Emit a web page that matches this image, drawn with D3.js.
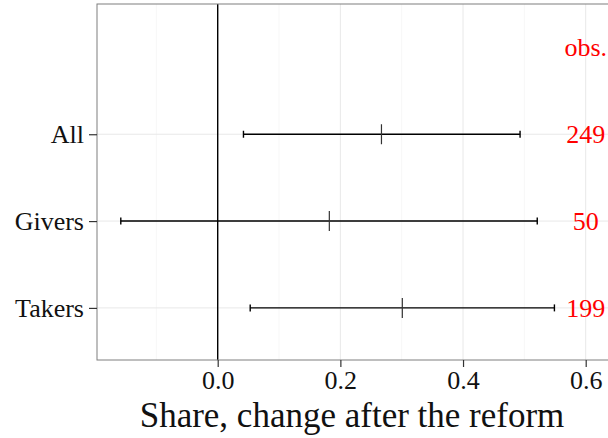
<!DOCTYPE html>
<html>
<head>
<meta charset="utf-8">
<script src="https://cdn.jsdelivr.net/npm/d3@7"></script>
<style>
  html, body { margin: 0; padding: 0; background: #fff; }
  svg { display: block; font-family: "Liberation Serif", "DejaVu Serif", serif; }
</style>
</head>
<body>
<svg id="chart" width="608" height="438"></svg>
<script>
  const groups = ['All', 'Givers', 'Takers'];
  const estimates = [0.267, 0.182, 0.301];
  const lower = [0.042, -0.158, 0.053];
  const upper = [0.493, 0.521, 0.549];
  const obs = [249, 50, 199];
  const xTicks = [0, 0.2, 0.4, 0.6];
  const xMinor = [-0.1, 0.1, 0.3, 0.5];
  const xTitle = 'Share, change after the reform';

  const svg = d3.select('#chart');
  const panel = { left: 97, top: 4, right: 614, bottom: 360 };

  const x = d3.scaleLinear().domain([0, 0.6]).range([217.7, 585.7]);
  const y = d3.scaleLinear().domain([0.4, 4.5]).range([panel.bottom, panel.top]);
  const yPos = i => groups.length - i;

  // grid
  const grid = svg.append('g');
  grid.selectAll('line.minor')
    .data(xMinor)
    .join('line')
    .attr('x1', d => x(d)).attr('x2', d => x(d))
    .attr('y1', panel.top).attr('y2', panel.bottom)
    .attr('stroke', '#f7f7f7').attr('stroke-width', 1);
  grid.selectAll('line.majorx')
    .data(xTicks)
    .join('line')
    .attr('x1', d => x(d)).attr('x2', d => x(d))
    .attr('y1', panel.top).attr('y2', panel.bottom)
    .attr('stroke', '#e8e8e8').attr('stroke-width', 1);
  grid.selectAll('line.majory')
    .data(groups)
    .join('line')
    .attr('x1', panel.left).attr('x2', panel.right)
    .attr('y1', (d, i) => y(yPos(i))).attr('y2', (d, i) => y(yPos(i)))
    .attr('stroke', '#e8e8e8').attr('stroke-width', 1);

  // zero line
  svg.append('line')
    .attr('x1', x(0)).attr('x2', x(0))
    .attr('y1', panel.top).attr('y2', panel.bottom)
    .attr('stroke', '#000').attr('stroke-width', 1.4);

  // error bars
  const bars = svg.append('g')
    .selectAll('g')
    .data(groups)
    .join('g')
    .attr('transform', (d, i) => `translate(0,${y(yPos(i))})`);

  bars.append('line')
    .attr('x1', (d, i) => x(lower[i])).attr('x2', (d, i) => x(upper[i]))
    .attr('stroke', '#000').attr('stroke-width', 1.4);
  bars.append('line')
    .attr('x1', (d, i) => x(lower[i])).attr('x2', (d, i) => x(lower[i]))
    .attr('y1', -3.5).attr('y2', 3.5)
    .attr('stroke', '#000').attr('stroke-width', 1.4);
  bars.append('line')
    .attr('x1', (d, i) => x(upper[i])).attr('x2', (d, i) => x(upper[i]))
    .attr('y1', -3.5).attr('y2', 3.5)
    .attr('stroke', '#000').attr('stroke-width', 1.4);
  bars.append('line')
    .attr('x1', (d, i) => x(estimates[i])).attr('x2', (d, i) => x(estimates[i]))
    .attr('y1', -10).attr('y2', 10)
    .attr('stroke', '#333').attr('stroke-width', 1.2);

  // obs labels
  svg.append('text')
    .attr('x', x(0.6)).attr('y', y(4))
    .attr('text-anchor', 'middle').attr('dy', '0.32em')
    .attr('fill', '#ff0000').attr('font-size', 26)
    .text('obs.');
  svg.append('g')
    .selectAll('text')
    .data(obs)
    .join('text')
    .attr('x', x(0.6))
    .attr('y', (d, i) => y(yPos(i)))
    .attr('dy', '0.35em')
    .attr('text-anchor', 'middle')
    .attr('fill', '#ff0000').attr('font-size', 26)
    .text(d => d);

  // panel border
  svg.append('rect')
    .attr('x', panel.left).attr('y', panel.top)
    .attr('width', panel.right - panel.left).attr('height', panel.bottom - panel.top)
    .attr('fill', 'none').attr('stroke', '#7f7f7f').attr('stroke-width', 1);

  // x axis
  const xAxis = d3.axisBottom(x).tickValues(xTicks).tickFormat(d3.format('.1f'))
    .tickSize(7).tickPadding(4);
  const gx = svg.append('g')
    .attr('transform', `translate(0,${panel.bottom})`)
    .call(xAxis);
  gx.select('.domain').remove();
  gx.selectAll('.tick line').attr('stroke', '#333').attr('stroke-width', 1.2);
  gx.selectAll('.tick text').attr('font-size', 26).attr('fill', '#111')
    .attr('font-family', '"Liberation Serif", serif');

  // y axis
  const yAxis = d3.axisLeft(y).tickValues(groups.map((d, i) => yPos(i)))
    .tickFormat(v => groups[groups.length - v]).tickSize(8).tickPadding(5);
  const gy = svg.append('g')
    .attr('transform', `translate(${panel.left},0)`)
    .call(yAxis);
  gy.select('.domain').remove();
  gy.selectAll('.tick line').attr('stroke', '#333').attr('stroke-width', 1.2);
  gy.selectAll('.tick text').attr('font-size', 26).attr('fill', '#111')
    .attr('font-family', '"Liberation Serif", serif');

  // x title
  svg.append('text')
    .attr('x', (panel.left + 606) / 2 + 0.5)
    .attr('y', 427)
    .attr('text-anchor', 'middle')
    .attr('font-size', 35)
    .attr('fill', '#111')
    .text(xTitle);
</script>
</body>
</html>
